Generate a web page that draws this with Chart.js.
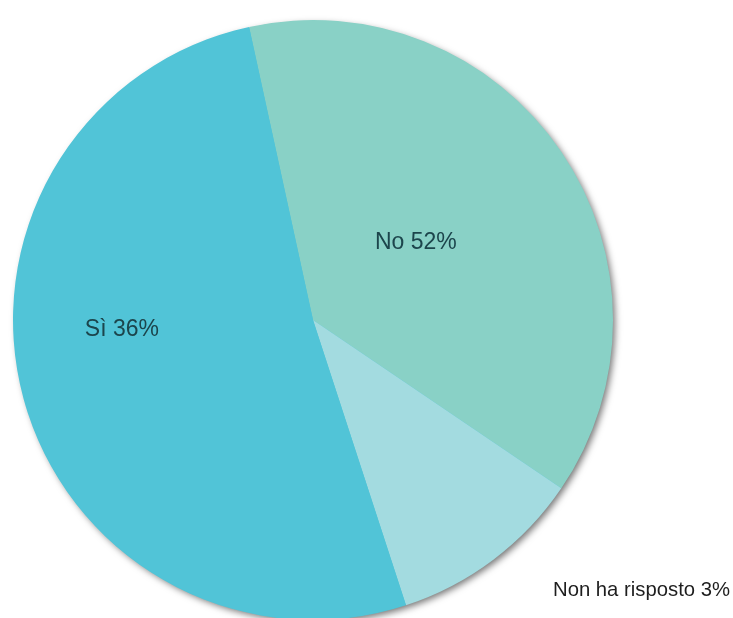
<!DOCTYPE html>
<html>
<head>
<meta charset="utf-8">
<script src="https://cdn.jsdelivr.net/npm/chart.js@4"></script>
<style>
  html, body { margin: 0; padding: 0; background: #fff; overflow: hidden; }
  #wrap { position: relative; width: 733px; height: 640px; }
</style>
</head>
<body>
<div id="wrap"><canvas id="myChart"></canvas></div>
<script>
// categorie e valori (angoli), etichette come stampate
const categorie = ['No', 'Non ha risposto', 'Sì']
const valori = [37.9, 10.5, 51.6]
const etichette = ['No 52%', 'Non ha risposto 3%', 'Sì 36%']
const colori = ['#89d1c6', '#a3dbe0', '#51c4d7']

// dove mettere ogni etichetta, in unità di raggio dal centro
const ancore = [
  { dx: 0.343, dy: -0.257, align: 'center', color: '#1c454c', size: 23 },
  { dx: 0.80, dy: 0.90, align: 'left', color: '#1e1e1e', size: 20.3 },
  { dx: -0.637, dy: 0.033, align: 'center', color: '#1c454c', size: 23 },
]

const ombra = {
  id: 'ombra',
  beforeDatasetsDraw: (chart) => {
    const arc = chart.getDatasetMeta(0).data[0]
    if (!arc) return
    const ctx = chart.ctx
    ctx.save()
    ctx.shadowColor = 'rgba(0, 0, 0, 0.55)'
    ctx.shadowBlur = 7
    ctx.shadowOffsetX = 3
    ctx.shadowOffsetY = 3
    ctx.beginPath()
    ctx.arc(arc.x, arc.y, arc.outerRadius - 1, 0, Math.PI * 2)
    ctx.fillStyle = colori[2]
    ctx.fill()
    ctx.restore()
  }
}

const testi = {
  id: 'testi',
  afterDatasetsDraw: (chart) => {
    const ctx = chart.ctx
    const meta = chart.getDatasetMeta(0)
    ctx.save()
    ctx.textBaseline = 'middle'
    meta.data.forEach((arc, i) => {
      const a = ancore[i]
      const r = arc.outerRadius
      ctx.font = a.size + 'px "Liberation Sans", Arial, sans-serif'
      ctx.fillStyle = a.color
      ctx.textAlign = a.align
      ctx.fillText(etichette[i], arc.x + a.dx * r, arc.y + a.dy * r)
    })
    ctx.restore()
  }
}

const ctx = document.getElementById('myChart').getContext('2d')
const myChart = new Chart(ctx, {
  type: 'pie',
  data: {
    labels: categorie,
    datasets: [
      {
        data: valori,
        backgroundColor: colori,
        borderWidth: 0,
      },
    ],
  },
  options: {
    responsive: true,
    maintainAspectRatio: false,
    animation: false,
    rotation: -12.3,
    layout: {
      padding: { left: 13, right: 120, top: 20, bottom: 20 },
    },
    plugins: {
      legend: { display: false },
      tooltip: { enabled: false },
    },
  },
  plugins: [ombra, testi],
})
</script>
</body>
</html>
